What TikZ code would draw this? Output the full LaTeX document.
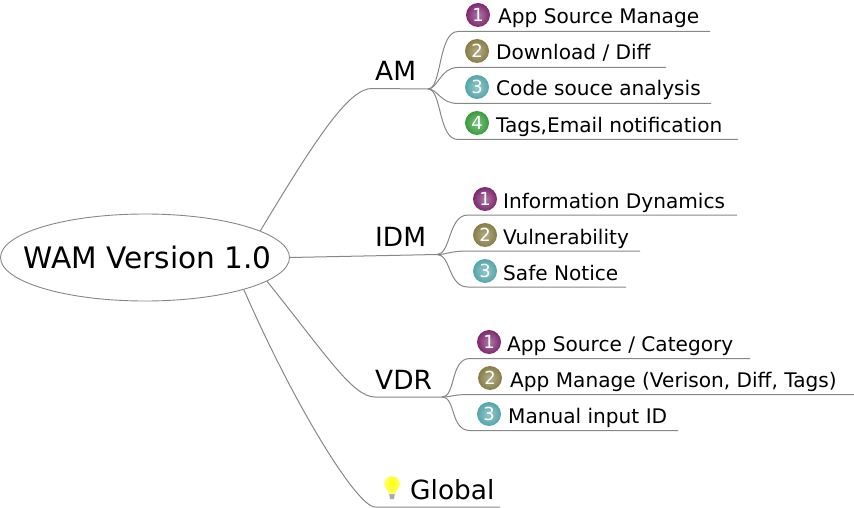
\documentclass[tikz,border=0pt]{standalone}
\usepackage{fontspec}
\setmainfont{DejaVu Sans}
\usetikzlibrary{shapes.geometric}
\definecolor{lin}{RGB}{135,135,135}
\definecolor{numa}{RGB}{125,40,110}
\definecolor{numb}{RGB}{135,125,70}
\definecolor{numc}{RGB}{85,165,170}
\definecolor{numd}{RGB}{55,155,60}
\tikzset{
  root/.style={ellipse,draw=lin,line width=0.9pt,minimum width=289pt,minimum height=87pt,inner xsep=-40pt,inner ysep=0pt,font=\fontsize{29.6}{30}\selectfont},
  branch/.style={anchor=base west,inner sep=0pt,font=\fontsize{26.4}{27}\selectfont},
  leaf/.style={anchor=base west,inner sep=0pt,font=\fontsize{20.1}{21}\selectfont},
  num/.style={circle,inner color=#1!62,outer color=#1,text=white,minimum size=24pt,inner sep=0pt,font=\fontsize{18}{18}\selectfont},
  link/.style={draw=lin,line width=1pt},
}

\begin{document}
\begin{tikzpicture}[x=1pt,y=-1pt]
\useasboundingbox (0,0) rectangle (854,508);

% Centre
\node[root] (wam) at (145,257.5) {\hspace*{5pt}WAM Version 1.0};

% --- AM ---
\node[branch] (am) at (375,81) {AM};
\coordinate (amj) at (428,89);
\draw[link] (wam.13) .. controls +(60,-100) and +(-22,0) .. (372,88.5) -- (amj);
\node[num=numa] (am1) at (478,15) {1};
\node[leaf] (am1t) at (498,24) {App Source Manage};
\node[num=numb] (am2) at (477,51) {2};
\node[leaf] (am2t) at (496,60) {Download / Diff};
\node[num=numc] (am3) at (477,87) {3};
\node[leaf] (am3t) at (496,96) {Code souce analysis};
\node[num=numd] (am4) at (477,123) {4};
\node[leaf] (am4t) at (496,132) {Tags,Email notification};
\coordinate (am1e) at (710,31.5);
\coordinate (am2e) at (666,67.5);
\coordinate (am3e) at (711,103.5);
\coordinate (am4e) at (738,139.5);
\draw[link] (amj) .. controls +(14,0) and +(-20,0) .. (458,31.5) -- (am1e);
\draw[link] (amj) .. controls +(10,0) and +(-18,0) .. (458,67.5) -- (am2e);
\draw[link] (amj) .. controls +(10,0) and +(-18,0) .. (458,103.5) -- (am3e);
\draw[link] (amj) .. controls +(14,0) and +(-20,0) .. (458,139.5) -- (am4e);

% --- IDM ---
\node[branch] (idm) at (375,246) {IDM};
\coordinate (idmj) at (437,254.5);
\draw[link] (wam.0) -- (idmj);
\node[num=numa] (idm1) at (485,199) {1};
\node[leaf] (idm1t) at (503,208) {Information Dynamics};
\node[num=numb] (idm2) at (485,235) {2};
\node[leaf] (idm2t) at (503,244) {Vulnerability};
\node[num=numc] (idm3) at (485,271) {3};
\node[leaf] (idm3t) at (503,280) {Safe Notice};
\coordinate (idm1e) at (737,215);
\coordinate (idm2e) at (640,251);
\coordinate (idm3e) at (626,287);
\draw[link] (idmj) .. controls +(14,0) and +(-20,0) .. (468,215) -- (idm1e);
\draw[link] (idmj) .. controls +(10,0) and +(-18,0) .. (468,251) -- (idm2e);
\draw[link] (idmj) .. controls +(14,0) and +(-20,0) .. (468,287) -- (idm3e);

% --- VDR ---
\node[branch] (vdr) at (375,389) {VDR};
\coordinate (vdrj) at (442,397);
\draw[link] (wam.-11) .. controls +(60,75) and +(-22,0) .. (375,397) -- (vdrj);
\node[num=numa] (vdr1) at (489,342) {1};
\node[leaf] (vdr1t) at (507,351) {App Source / Category};
\node[num=numb] (vdr2) at (490,378) {2};
\node[leaf] (vdr2t) at (510,387) {App Manage (Verison, Diff, Tags)};
\node[num=numc] (vdr3) at (489,414) {3};
\node[leaf] (vdr3t) at (508,423) {Manual input ID};
\coordinate (vdr1e) at (750,358.5);
\coordinate (vdr2e) at (854,394.5);
\coordinate (vdr3e) at (678,430.5);
\draw[link] (vdrj) .. controls +(14,0) and +(-20,0) .. (470,358.5) -- (vdr1e);
\draw[link] (vdrj) .. controls +(10,0) and +(-18,0) .. (470,394.5) -- (vdr2e);
\draw[link] (vdrj) .. controls +(14,0) and +(-20,0) .. (470,430.5) -- (vdr3e);

% --- Global ---
\node[branch] (glob) at (410,499) {Global};
% bulb
\fill[lin!70] (389,493) -- (395,493) -- (394,499) -- (390,499) -- cycle;
\shade[inner color=yellow,outer color=yellow!55!white] (389,494) .. controls (388,489) and (384,489) .. (384,484) .. controls (384,473.5) and (400,473.5) .. (400,484) .. controls (400,489) and (396,489) .. (395,494) -- cycle;
\coordinate (globe) at (500,507);
\draw[link] (wam.-18) .. controls +(50,115) and +(-18,0) .. (375,507) -- (globe);
\end{tikzpicture}
\end{document}
